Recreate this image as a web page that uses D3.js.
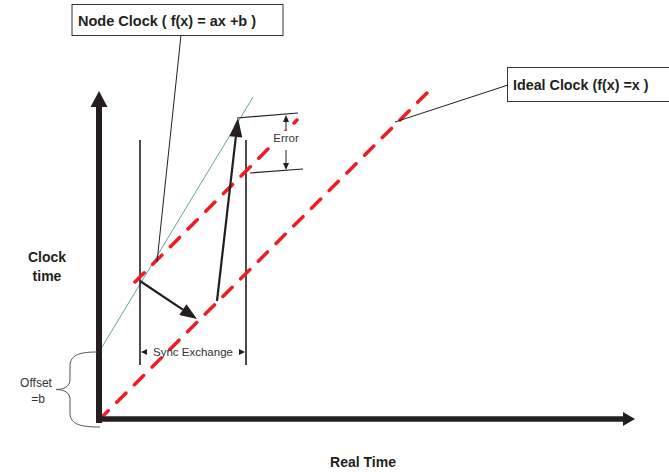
<!DOCTYPE html>
<html><head><meta charset="utf-8">
<script src="https://cdn.jsdelivr.net/npm/d3@7"></script>
<style>body{margin:0;background:#fff}svg{display:block}text{font-family:"Liberation Sans",Arial,sans-serif}</style>
</head><body>
<svg id="c" width="669" height="472"></svg>
<script>
// axis domains (real time, clock time)
const realTimeDomain = [0, 540];
const clockTimeDomain = [0, 330];
// ideal clock f(x)=x
const idealClock = [[0, 0], [329, 328]];
// node clock f(x)=ax+b
const nodeA = 1.655, nodeB = 68;
const nodeRange = [0, 154];
// shifted ideal line (through sync point)
const shiftedIdeal = [[36, 138], [198, 300]];
// sync exchange messages
const syncMessages = [
  [[41, 139], [98, 101]],
  [[118, 119], [139, 302]]
];
// sync window verticals
const syncWindow = [41, 147];
const syncWindowY = [55, 280];
// error marks
const errorTop = [[138, 302], [199, 307]];
const errorBottom = [[151, 247], [204, 251]];
const errorArrowX = 187;
const errorArrows = [[290, 305], [270, 250]];
// labels
const labels = {
  node: "Node Clock ( f(x) = ax +b )",
  ideal: "Ideal Clock (f(x) =x )",
  yTitle: ["Clock", "time"],
  xTitle: "Real Time",
  sync: "Sync Exchange",
  error: "Error",
  offset: ["Offset", "=b"]
};

const svg = d3.select("#c");
const x = d3.scaleLinear().domain(realTimeDomain).range([99, 639]);
const y = d3.scaleLinear().domain(clockTimeDomain).range([420, 90]);
const P = d => [x(d[0]), y(d[1])];
const dark = "#231f20";

function head(p0, p1, len, hw, color) {
  const dx = p1[0] - p0[0], dy = p1[1] - p0[1];
  const L = Math.hypot(dx, dy), ux = dx / L, uy = dy / L;
  const bx = p1[0] - ux * len, by = p1[1] - uy * len;
  svg.append("path")
    .attr("d", `M${p1[0]},${p1[1]}L${bx - uy * hw},${by + ux * hw}L${bx + uy * hw},${by - ux * hw}Z`)
    .attr("fill", color);
  return [bx, by];
}
function line(a, b, stroke, w) {
  return svg.append("line").attr("x1", a[0]).attr("y1", a[1]).attr("x2", b[0]).attr("y2", b[1])
    .attr("stroke", stroke).attr("stroke-width", w);
}

// node clock line
line(P([nodeRange[0], nodeB]), P([nodeRange[1], nodeB + nodeA * nodeRange[1]]), "#66a3a3", 1);

// sync window verticals
syncWindow.forEach(v => line(P([v, syncWindowY[0]]), P([v, syncWindowY[1]]), dark, 1.6));

// red dashed lines
[idealClock, shiftedIdeal].forEach(seg => {
  line(P(seg[0]), P(seg[1]), "#ee1c25", 3.5)
    .attr("stroke-dasharray", "13,12").attr("stroke-linecap", "round");
});

// sync messages
syncMessages.forEach((m, i) => {
  const a = P(m[0]), b = P(m[1]);
  const base = head(a, b, i === 0 ? 17 : 19, 6.5, dark);
  line(a, base, dark, 2.2);
});

// error marks
line(P(errorTop[0]), P(errorTop[1]), dark, 1.2);
line(P(errorBottom[0]), P(errorBottom[1]), dark, 1.2);
errorArrows.forEach(ea => {
  const a = P([errorArrowX, ea[0]]), b = P([errorArrowX, ea[1]]);
  const base = head(a, b, 7, 3, dark);
  line(a, base, dark, 1);
});
svg.append("rect").attr("x", x(errorArrowX) - 15).attr("y", y(278) - 11).attr("width", 30).attr("height", 14)
  .attr("fill", "#fff");
svg.append("text").attr("x", x(errorArrowX)).attr("y", y(278)).attr("text-anchor", "middle")
  .attr("font-size", 11.5).attr("fill", "#333").text(labels.error);

// sync exchange label
const sy = y(68);
const sl = x(syncWindow[0]) + 1, sr = x(syncWindow[1]) - 1;
head([sl + 10, sy], [sl, sy], 6, 3, dark);
head([sr - 10, sy], [sr, sy], 6, 3, dark);
svg.append("text").attr("x", (sl + sr) / 2).attr("y", sy + 4).attr("text-anchor", "middle")
  .attr("font-size", 11.5).attr("fill", "#333").text(labels.sync);

// axes
const origin = P([0, 0]);
const yTip = P([0, 329]);
const xTip = P([536, 1]);
line([origin[0], origin[1] + 3], [yTip[0], yTip[1] + 15], dark, 6);
head([yTip[0], yTip[1] + 30], yTip, 16, 8.5, dark);
line([origin[0] - 3, xTip[1]], [xTip[0] - 11, xTip[1]], dark, 5.5);
head([xTip[0] - 30, xTip[1]], xTip, 12, 7, dark);

// offset brace
const bt = y(nodeB), bb = origin[1] + 7, bm = (bt + bb) / 2;
svg.append("path")
  .attr("d", `M${origin[0] - 2},${bt} C82,${bt} 70,${bt + 2} 70,${bt + 14} L70,${bm - 10} C70,${bm - 3} 64,${bm} 56,${bm} C64,${bm} 70,${bm + 3} 70,${bm + 10} L70,${bb - 14} C70,${bb - 2} 82,${bb} ${origin[0] + 1},${bb}`)
  .attr("fill", "none").attr("stroke", "#555").attr("stroke-width", 1);
svg.append("text").attr("x", 36).attr("y", bm - 3).attr("text-anchor", "middle")
  .attr("font-size", 12).attr("fill", "#333").text(labels.offset[0]);
svg.append("text").attr("x", 38).attr("y", bm + 13).attr("text-anchor", "middle")
  .attr("font-size", 12).attr("fill", "#333").text(labels.offset[1]);

// axis titles
svg.append("text").attr("x", 47).attr("y", 262).attr("text-anchor", "middle")
  .attr("font-size", 14).attr("font-weight", "bold").attr("fill", "#231f20").text(labels.yTitle[0]);
svg.append("text").attr("x", 47).attr("y", 281).attr("text-anchor", "middle")
  .attr("font-size", 14).attr("font-weight", "bold").attr("fill", "#231f20").text(labels.yTitle[1]);
svg.append("text").attr("x", 363).attr("y", 467).attr("text-anchor", "middle")
  .attr("font-size", 14).attr("font-weight", "bold").attr("fill", "#231f20").text(labels.xTitle);

// node clock callout
line([181, 35], P([58, 158]), dark, 1);
svg.append("rect").attr("x", 72).attr("y", 4.5).attr("width", 211).attr("height", 31)
  .attr("fill", "#fff").attr("stroke", "#333").attr("stroke-width", 1);
svg.append("text").attr("x", 78).attr("y", 26).attr("font-size", 14.5).attr("font-weight", "bold")
  .attr("fill", "#231f20").text(labels.node);

// ideal clock callout
line(P([296, 298]), [508, 85], dark, 1);
svg.append("rect").attr("x", 507.5).attr("y", 67.5).attr("width", 162).attr("height", 34)
  .attr("fill", "#fff").attr("stroke", "#333").attr("stroke-width", 1);
svg.append("text").attr("x", 513).attr("y", 90).attr("font-size", 14.3).attr("font-weight", "bold")
  .attr("fill", "#231f20").text(labels.ideal);
</script>
</body></html>
